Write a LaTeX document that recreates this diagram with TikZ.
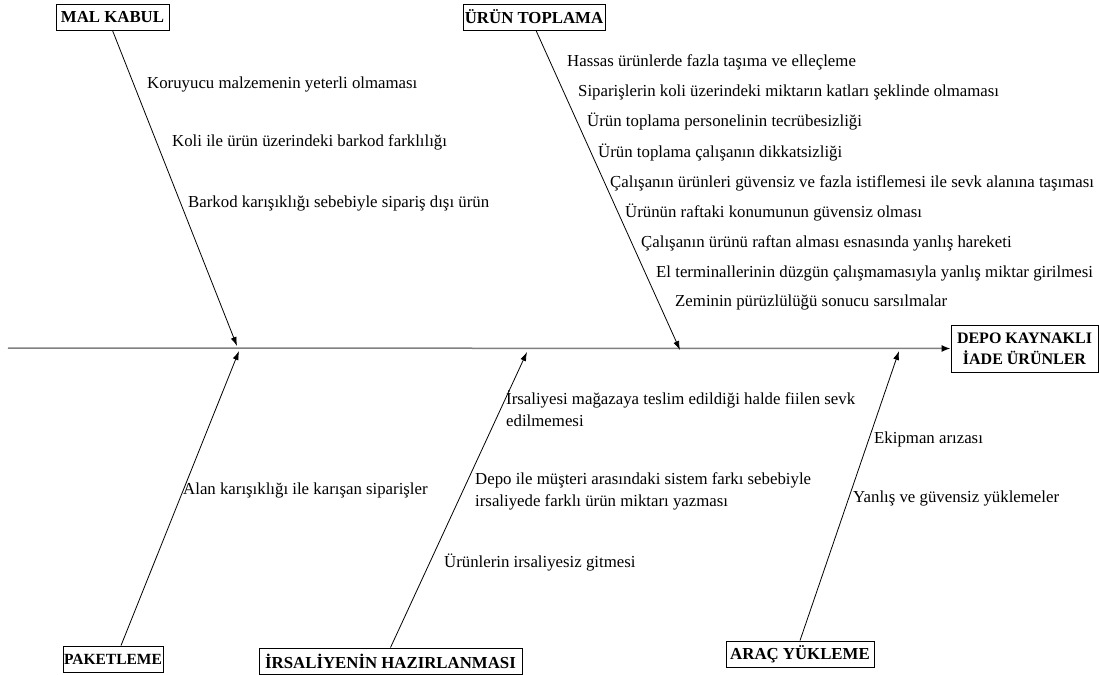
\documentclass[tikz,border=0pt]{standalone}
\usepackage{fontspec}
\setmainfont{Liberation Serif}
\usetikzlibrary{arrows.meta}
\begin{document}
\begin{tikzpicture}[x=1pt,y=-1pt,
 catbox/.style={draw=black,line width=0.9pt,font=\fontsize{16.8}{21}\selectfont\bfseries,inner sep=0pt,minimum height=26pt,align=center},
 cause/.style={anchor=base west,inner sep=0pt,font=\fontsize{16.8}{22}\selectfont,align=left},
 bone/.style={draw=black,line width=0.8pt,-{Latex[length=9pt,width=6pt]}},
 spine/.style={draw=gray,line width=1.5pt,-{Latex[length=9pt,width=7pt,color=black]}}]
\useasboundingbox (0,0) rectangle (1099,674);
% category boxes
\node[catbox,minimum width=113pt] (mk) at (112.5,17) {MAL KABUL};
\node[catbox,minimum width=142pt] (ut) at (534,17) {ÜRÜN TOPLAMA};
\node[catbox,minimum width=100pt,font=\fontsize{15.5}{18}\selectfont\bfseries] (pk) at (113,659) {PAKETLEME};
\node[catbox,minimum width=263pt] (ih) at (390.5,661) {İRSALİYENİN HAZIRLANMASI};
\node[catbox,minimum width=148pt] (ay) at (800,654) {ARAÇ YÜKLEME};
\node[catbox,minimum width=147pt,minimum height=47pt,font=\fontsize{16}{21}\selectfont\bfseries] (dk) at (1024.5,348.5) {DEPO KAYNAKLI\\İADE ÜRÜNLER};
% spine and bones
\coordinate (s0) at (8,348);
\coordinate (tmk) at (237,346);
\coordinate (tpk) at (239,351);
\coordinate (tut) at (680,350);
\coordinate (tih) at (527,352);
\coordinate (tay) at (899,351);
\draw[spine] (s0) -- (dk.west);
\draw[bone] (mk.south) -- (tmk);
\draw[bone] ([xshift=2pt]ut.south) -- (tut);
\draw[bone] ([xshift=8pt]pk.north) -- (tpk);
\draw[bone] (ih.north) -- (tih);
\draw[bone] (ay.north) -- (tay);
% causes: MAL KABUL
\node[cause] (c1) at (147,89) {Koruyucu malzemenin yeterli olmaması};
\node[cause] (c2) at (172,146) {Koli ile ürün üzerindeki barkod farklılığı};
\node[cause] (c3) at (188,207) {Barkod karışıklığı sebebiyle sipariş dışı ürün};
% causes: ÜRÜN TOPLAMA
\node[cause] (u1) at (567,67) {Hassas ürünlerde fazla taşıma ve elleçleme};
\node[cause] (u2) at (578,97) {Siparişlerin koli üzerindeki miktarın katları şeklinde olmaması};
\node[cause] (u3) at (587,127) {Ürün toplama personelinin tecrübesizliği};
\node[cause] (u4) at (598,157) {Ürün toplama çalışanın dikkatsizliği};
\node[cause] (u5) at (610,187) {Çalışanın ürünleri güvensiz ve fazla istiflemesi ile sevk alanına taşıması};
\node[cause] (u6) at (625,217) {Ürünün raftaki konumunun güvensiz olması};
\node[cause] (u7) at (641,247) {Çalışanın ürünü raftan alması esnasında yanlış hareketi};
\node[cause] (u8) at (656,277) {El terminallerinin düzgün çalışmamasıyla yanlış miktar girilmesi};
\node[cause] (u9) at (675,306) {Zeminin pürüzlülüğü sonucu sarsılmalar};
% causes: PAKETLEME
\node[cause] (p1) at (183,494) {Alan karışıklığı ile karışan siparişler};
% causes: İRSALİYE
\node[cause] (i1) at (506,426) {İrsaliyesi mağazaya teslim edildiği halde fiilen sevk\\edilmemesi};
\node[cause] (i2) at (475,506) {Depo ile müşteri arasındaki sistem farkı sebebiyle\\irsaliyede farklı ürün miktarı yazması};
\node[cause] (i3) at (444,567) {Ürünlerin irsaliyesiz gitmesi};
% causes: ARAÇ YÜKLEME
\node[cause] (a1) at (874,443) {Ekipman arızası};
\node[cause] (a2) at (853,502) {Yanlış ve güvensiz yüklemeler};
\end{tikzpicture}
\end{document}
